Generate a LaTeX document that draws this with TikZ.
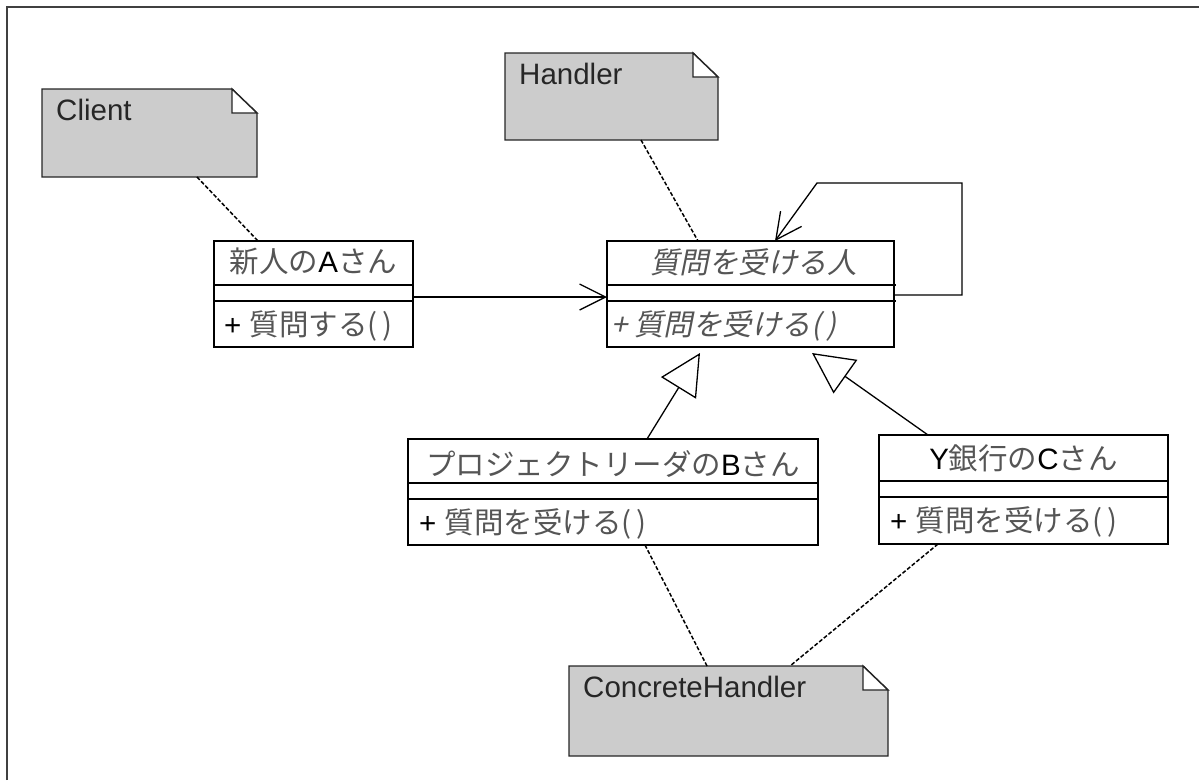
\documentclass[tikz,border=0pt]{standalone}
\usepackage{fontspec}
\setmainfont{Liberation Sans}
\newfontfamily\jp{Noto Sans CJK JP}
\newfontfamily\jpit{Noto Sans CJK JP}[FakeSlant=0.2]
\usetikzlibrary{arrows.meta,calc}

\definecolor{notegray}{HTML}{CCCCCC}
\definecolor{jpgray}{HTML}{555555}

% Japanese runs, upright and slanted
\newcommand\jtxt[1]{{\jp\color{jpgray}#1}}
\newcommand\jitxt[1]{{\jpit\color{jpgray}#1}}
% empty parameter list of an operation
\newcommand\oparens{(\hspace{5pt})}

% grey note with a folded top-right corner, drawn around a named frame node
\newcommand\foldnote[1]{%
  \filldraw[notebody] (#1.north west) -- ([xshift=-25pt]#1.north east)
    -- ([yshift=-24pt]#1.north east) -- (#1.south east) -- (#1.south west) -- cycle;
  \filldraw[notefold] ([xshift=-25pt]#1.north east) -- ([yshift=-24pt]#1.north east)
    -- ([xshift=-25pt,yshift=-24pt]#1.north east) -- cycle;}

\tikzset{
  notebody/.style={fill=notegray, draw=black!85, line width=1.4pt, line join=miter},
  notefold/.style={fill=white, draw=black!85, line width=1.4pt, line join=miter},
  noteframe/.style={rectangle, inner sep=0pt, outer sep=0pt, anchor=north west},
  notelabel/.style={anchor=base west, inner sep=0pt, font=\fontsize{29.5}{34}\selectfont, text=black!85},
  classbox/.style={draw, line width=1.4pt, rectangle, inner sep=0pt, outer sep=0pt, anchor=north west},
  compline/.style={line width=1.4pt},
  clsname/.style={anchor=base, inner sep=0pt, font=\fontsize{29.5}{34}\selectfont},
  clsop/.style={anchor=base west, inner sep=0pt, font=\fontsize{29.5}{34}\selectfont},
  assoc/.style={line width=1.3pt, -{Straight Barb[length=26pt,width=26pt]}},
  inherit/.style={line width=1.3pt, -{Triangle[open,length=41pt,width=41pt]}},
  anchorline/.style={line width=1.5pt, dash pattern=on 4pt off 2pt},
}

\begin{document}
\begin{tikzpicture}[x=1pt,y=-1pt]
\useasboundingbox (0,0) rectangle (1199,780);

% frame
\draw[line width=2pt, black!75] (7,780) -- (7,7) -- (1199,7);

% notes
\node[noteframe, minimum width=215pt, minimum height=88pt] (client) at (42,89) {};
\foldnote{client}
\node[notelabel] (client-label) at ($(client.north west)+(14,31)$) {Client};

\node[noteframe, minimum width=213pt, minimum height=87pt] (handler) at (505,53) {};
\foldnote{handler}
\node[notelabel] (handler-label) at ($(handler.north west)+(14,31)$) {Handler};

\node[noteframe, minimum width=319pt, minimum height=90pt] (ch) at (569,666) {};
\foldnote{ch}
\node[notelabel] (ch-label) at ($(ch.north west)+(14,31)$) {ConcreteHandler};

% classes
\node[classbox, minimum width=199pt, minimum height=106pt] (asan) at (214,241) {};
\draw[compline] ($(asan.north west)+(0,44)$) -- ($(asan.north east)+(0,44)$);
\draw[compline] ($(asan.north west)+(0,60)$) -- ($(asan.north east)+(0,60)$);
\node[clsname] (asan-name) at ($(asan.north)+(0,31)$) {\jtxt{新人の}A\jtxt{さん}};
\node[clsop] (asan-op) at ($(asan.north west)+(10,94)$) {+ \jtxt{質問する\oparens}};

\node[classbox, minimum width=287pt, minimum height=106pt] (hd) at (607,241) {};
\draw[compline] ($(hd.north west)+(0,44)$) -- ($(hd.north east)+(2,44)$);
\draw[compline] ($(hd.north west)+(0,60)$) -- ($(hd.north east)+(2,60)$);
\node[clsname] (hd-name) at ($(hd.north)+(3,32)$) {\jitxt{質問を受ける人}};
\node[clsop] (hd-op) at ($(hd.north west)+(4,94)$) {\jitxt{+ 質問を受ける\oparens}};

\node[classbox, minimum width=410pt, minimum height=106pt] (bsan) at (408,439) {};
\draw[compline] ($(bsan.north west)+(0,44)$) -- ($(bsan.north east)+(0,44)$);
\draw[compline] ($(bsan.north west)+(0,60)$) -- ($(bsan.north east)+(0,60)$);
\node[clsname] (bsan-name) at ($(bsan.north)+(0,36)$) {\jtxt{プロジェクトリーダの}B\jtxt{さん}};
\node[clsop] (bsan-op) at ($(bsan.north west)+(11,94)$) {+ \jtxt{質問を受ける\oparens}};

\node[classbox, minimum width=289pt, minimum height=109pt] (csan) at (879,435) {};
\draw[compline] ($(csan.north west)+(0,46)$) -- ($(csan.north east)+(0,46)$);
\draw[compline] ($(csan.north west)+(0,62)$) -- ($(csan.north east)+(0,62)$);
\node[clsname] (csan-name) at ($(csan.north)+(0,34)$) {Y\jtxt{銀行の}C\jtxt{さん}};
\node[clsop] (csan-op) at ($(csan.north west)+(11,96)$) {+ \jtxt{質問を受ける\oparens}};

% note anchors
\draw[anchorline] ($(client.south west)+(155,0)$) -- ($(asan.north west)+(44,0)$);
\draw[anchorline] ($(handler.south west)+(136,0)$) -- ($(hd.north west)+(91,0)$);
\draw[anchorline] ($(bsan.south west)+(237,0)$) -- ($(ch.north west)+(138,0)$);
\draw[anchorline] ($(csan.south west)+(59,0)$) -- ($(ch.north west)+(221,0)$);

% associations
\draw[assoc] ($(asan.north east)+(0,56)$) -- ($(hd.north west)+(0,56)$);
\draw[assoc] ($(hd.north east)+(0,54)$) -- ++(68,0) -- ++(0,-112) -- ++(-145,0)
  -- ($(hd.north west)+(168,0)$);

% generalizations
\draw[inherit] ($(bsan.north west)+(239,0)$) -- ($(hd.south west)+(93,6)$);
\draw[inherit] ($(csan.north west)+(49,0)$) -- ($(hd.south west)+(205,6)$);
\end{tikzpicture}
\end{document}
